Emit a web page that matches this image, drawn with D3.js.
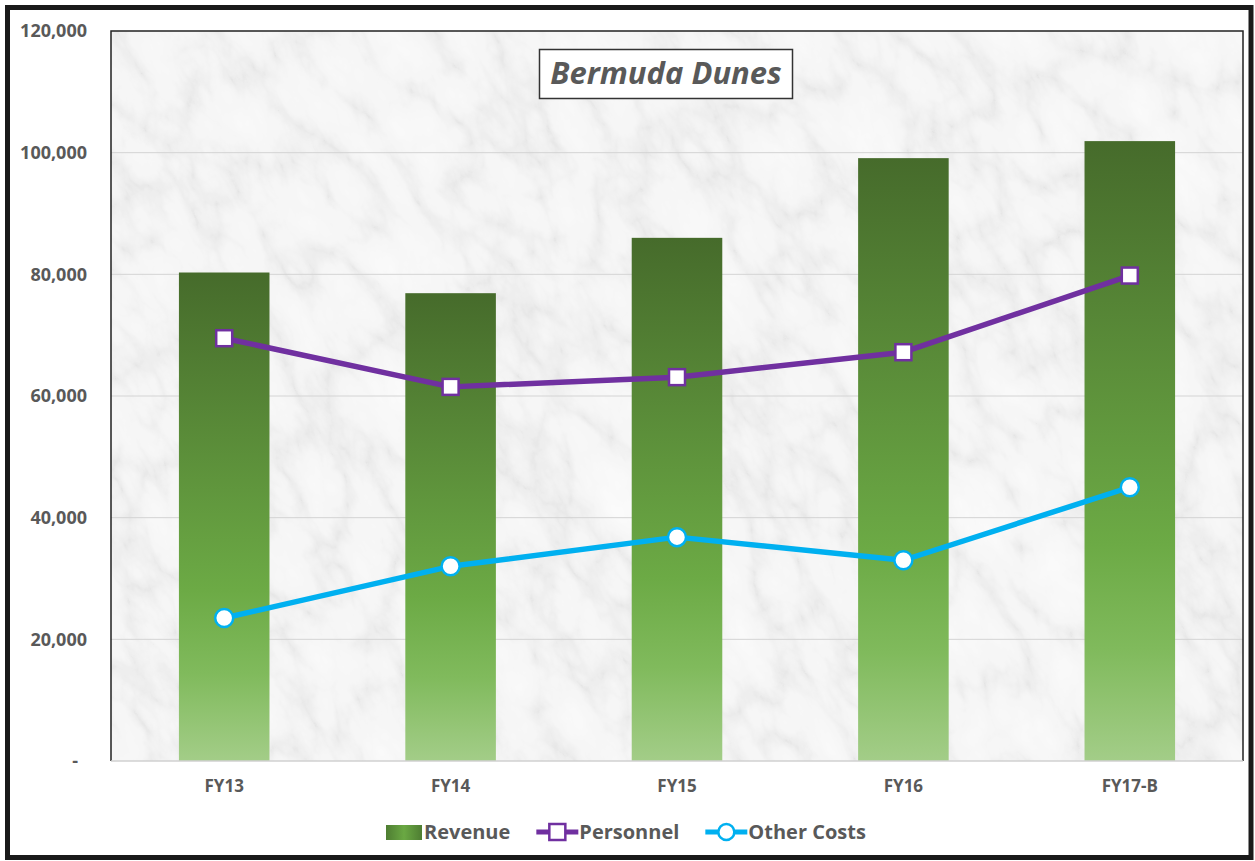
<!DOCTYPE html>
<html>
<head>
<meta charset="utf-8">
<script src="https://cdn.jsdelivr.net/npm/d3@7"></script>
<style>
  body { margin: 0; background: #fff; }
  text { font-family: "Open Sans", Lato, sans-serif; fill: #595959; font-weight: bold; }
</style>
</head>
<body>
<div id="viz"></div>
<script>
const categories = ["FY13", "FY14", "FY15", "FY16", "FY17-B"];
const revenue = [80300, 76900, 86000, 99100, 101900];
const personnel = [69500, 61500, 63100, 67200, 79800];
const otherCosts = [23500, 32000, 36800, 33000, 45000];
const yTicks = [0, 20000, 40000, 60000, 80000, 100000, 120000];
const legendNames = ["Revenue", "Personnel", "Other Costs"];

const W = 1255, H = 861;
const plot = { left: 111, top: 31, right: 1243, bottom: 761 };

const svg = d3.select("#viz").append("svg")
    .attr("width", W)
    .attr("height", H);

const defs = svg.append("defs");

// bar gradient, dark at top, light at bottom
const grad = defs.append("linearGradient")
    .attr("id", "barGrad")
    .attr("x1", 0).attr("y1", 0).attr("x2", 0).attr("y2", 1);
grad.append("stop").attr("offset", "0%").attr("stop-color", "#466b2b");
grad.append("stop").attr("offset", "65%").attr("stop-color", "#6caa45");
grad.append("stop").attr("offset", "82%").attr("stop-color", "#80ba5c");
grad.append("stop").attr("offset", "100%").attr("stop-color", "#a3cd88");

const lgGrad = defs.append("linearGradient")
    .attr("id", "legGrad")
    .attr("x1", 0).attr("y1", 0).attr("x2", 1).attr("y2", 0);
lgGrad.append("stop").attr("offset", "0%").attr("stop-color", "#4e7d32");
lgGrad.append("stop").attr("offset", "50%").attr("stop-color", "#6aa843");
lgGrad.append("stop").attr("offset", "100%").attr("stop-color", "#4e7d32");

// marble look for the plot area
const marble = defs.append("filter")
    .attr("id", "marble")
    .attr("x", 0).attr("y", 0).attr("width", "100%").attr("height", "100%")
    .attr("filterUnits", "objectBoundingBox");
marble.append("feTurbulence")
    .attr("type", "turbulence")
    .attr("baseFrequency", "0.02 0.01")
    .attr("numOctaves", 6)
    .attr("seed", 11)
    .attr("result", "noise");
marble.append("feColorMatrix")
    .attr("in", "noise")
    .attr("type", "matrix")
    .attr("values", "1 0 0 0 0  1 0 0 0 0  1 0 0 0 0  0 0 0 0 1")
    .attr("result", "gray");
const ct = marble.append("feComponentTransfer").attr("in", "gray");
const table = "0.78 0.85 0.89 0.92 0.93 0.94 0.95 0.96 0.97";
ct.append("feFuncR").attr("type", "table").attr("tableValues", table);
ct.append("feFuncG").attr("type", "table").attr("tableValues", table);
ct.append("feFuncB").attr("type", "table").attr("tableValues", table);

defs.append("clipPath").attr("id", "plotClip")
    .append("rect")
    .attr("x", plot.left).attr("y", plot.top)
    .attr("width", plot.right - plot.left)
    .attr("height", plot.bottom - plot.top);

// outer frame
svg.append("rect")
    .attr("x", 7.5).attr("y", 7.5)
    .attr("width", 1243.5).attr("height", 850)
    .attr("fill", "#fff")
    .attr("stroke", "#1a1a1a")
    .attr("stroke-width", 5);

const bg = svg.append("g").attr("clip-path", "url(#plotClip)");
bg.append("g")
    .attr("transform", "rotate(-30 677 396)")
    .append("rect")
    .attr("x", -200).attr("y", -400)
    .attr("width", 1800).attr("height", 1600)
    .attr("filter", "url(#marble)");

const x = d3.scaleBand()
    .domain(categories)
    .range([plot.left, plot.right])
    .paddingInner(0.6)
    .paddingOuter(0.3);

const y = d3.scaleLinear()
    .domain([0, 120000])
    .range([plot.bottom, plot.top]);

// gridlines
svg.append("g")
    .selectAll("line")
    .data(yTicks.filter(d => d > 0 && d < 120000))
    .join("line")
    .attr("x1", plot.left).attr("x2", plot.right)
    .attr("y1", d => y(d)).attr("y2", d => y(d))
    .attr("stroke", "#d4d4d4")
    .attr("stroke-width", 1);

// y axis labels
const yAxis = svg.append("g")
    .attr("transform", `translate(${plot.left},0)`)
    .call(d3.axisLeft(y).tickValues(yTicks).tickSize(0).tickPadding(24)
        .tickFormat(d => d === 0 ? "-" : d3.format(",")(d)));
yAxis.select(".domain").remove();
yAxis.selectAll("text")
    .attr("font-size", 18)
    .attr("fill", "#595959")
    .attr("font-family", "'Open Sans', sans-serif")
    .attr("font-weight", "bold")
    .attr("dx", d => d === 0 ? -9 : 0);

// bars
svg.append("g")
    .selectAll("rect")
    .data(revenue)
    .join("rect")
    .attr("x", (d, i) => x(categories[i]))
    .attr("y", d => y(d))
    .attr("width", x.bandwidth())
    .attr("height", d => y(0) - y(d))
    .attr("fill", "url(#barGrad)");

// plot border
svg.append("path")
    .attr("d", `M${plot.left},${plot.bottom}V${plot.top}H${plot.right}V${plot.bottom}`)
    .attr("fill", "none")
    .attr("stroke", "#222")
    .attr("stroke-width", 1.5);
svg.append("line")
    .attr("x1", plot.left).attr("x2", plot.right)
    .attr("y1", plot.bottom).attr("y2", plot.bottom)
    .attr("stroke", "#d0d0d0")
    .attr("stroke-width", 1.5);

// x axis labels
const xAxis = svg.append("g")
    .attr("transform", `translate(0,${plot.bottom})`)
    .call(d3.axisBottom(x).tickSize(0).tickPadding(19));
xAxis.select(".domain").remove();
xAxis.selectAll("text")
    .attr("font-size", 17)
    .attr("fill", "#595959")
    .attr("font-family", "'Open Sans', sans-serif")
    .attr("font-weight", "bold");

const cx = (d, i) => x(categories[i]) + x.bandwidth() / 2;
const line = d3.line().x(cx).y(d => y(d));

// personnel
svg.append("path")
    .datum(personnel)
    .attr("d", line)
    .attr("fill", "none")
    .attr("stroke", "#7030a0")
    .attr("stroke-width", 5.5)
    .attr("stroke-linejoin", "round");
svg.append("g")
    .selectAll("rect")
    .data(personnel)
    .join("rect")
    .attr("x", (d, i) => cx(d, i) - 8)
    .attr("y", d => y(d) - 8)
    .attr("width", 16).attr("height", 16)
    .attr("fill", "#fff")
    .attr("stroke", "#7030a0")
    .attr("stroke-width", 2.5);

// other costs
svg.append("path")
    .datum(otherCosts)
    .attr("d", line)
    .attr("fill", "none")
    .attr("stroke", "#00b0f0")
    .attr("stroke-width", 5.5)
    .attr("stroke-linejoin", "round");
svg.append("g")
    .selectAll("circle")
    .data(otherCosts)
    .join("circle")
    .attr("cx", cx)
    .attr("cy", d => y(d))
    .attr("r", 9)
    .attr("fill", "#fff")
    .attr("stroke", "#00b0f0")
    .attr("stroke-width", 2.5);

// title box
const titleG = svg.append("g");
titleG.append("rect")
    .attr("x", 539.5).attr("y", 49.5)
    .attr("width", 253).attr("height", 49)
    .attr("fill", "#fff")
    .attr("stroke", "#333")
    .attr("stroke-width", 1.5);
titleG.append("text")
    .attr("x", 666).attr("y", 84)
    .attr("text-anchor", "middle")
    .attr("font-size", 31)
    .attr("font-style", "italic")
    .text("Bermuda Dunes");

// legend
const legY = 832;
const leg = svg.append("g");
let lx = 386;
legendNames.forEach((name, i) => {
    if (i === 0) {
        leg.append("rect")
            .attr("x", lx).attr("y", legY - 7)
            .attr("width", 36).attr("height", 15)
            .attr("fill", "url(#legGrad)");
    } else {
        const col = i === 1 ? "#7030a0" : "#00b0f0";
        leg.append("line")
            .attr("x1", lx).attr("x2", lx + 42)
            .attr("y1", legY).attr("y2", legY)
            .attr("stroke", col).attr("stroke-width", 5);
        if (i === 1) {
            leg.append("rect")
                .attr("x", lx + 21 - 8).attr("y", legY - 8)
                .attr("width", 16).attr("height", 16)
                .attr("fill", "#fff").attr("stroke", col).attr("stroke-width", 2.5);
        } else {
            leg.append("circle")
                .attr("cx", lx + 21).attr("cy", legY).attr("r", 8)
                .attr("fill", "#fff").attr("stroke", col).attr("stroke-width", 2.5);
        }
    }
    const t = leg.append("text")
        .attr("x", lx + (i === 0 ? 38 : 43))
        .attr("y", legY + 7)
        .attr("font-size", 20)
        .text(name);
    lx = lx + (i === 0 ? 38 : 43) + t.node().getComputedTextLength() + 26;
});
</script>
</body>
</html>
